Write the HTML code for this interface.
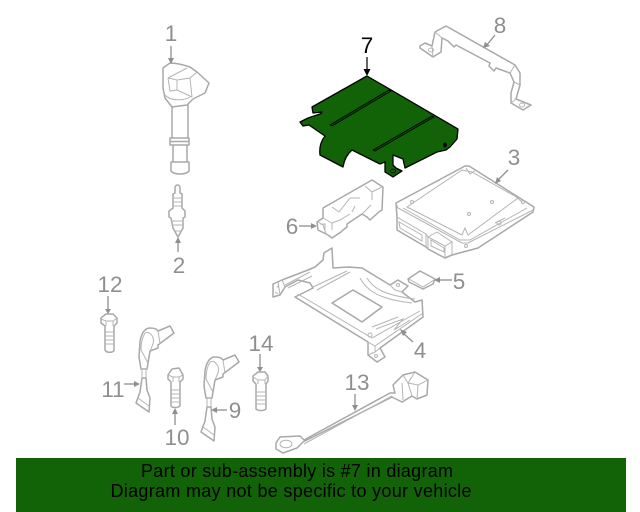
<!DOCTYPE html>
<html><head><meta charset="utf-8"><style>
html,body{margin:0;padding:0;background:#fff}
svg{display:block}
text{font-family:"Liberation Sans",sans-serif}
.l{fill:#8f8f8f;font-size:22.500px}
.g{fill:none;stroke:#a8a8a8;stroke-width:1.500;stroke-linejoin:round;stroke-linecap:round}
.t{stroke:#b4b4b4;stroke-width:1;fill:none}
.a{stroke:#8f8f8f;stroke-width:1.300;fill:none}
.h{fill:#8f8f8f}
</style></head><body>
<svg width="640" height="512" viewBox="0 0 640 512" xmlns="http://www.w3.org/2000/svg">
<rect x="16" y="458" width="610" height="54" fill="#126307"/>
<text x="297" y="477" text-anchor="middle" font-size="18" fill="#000" textLength="312">Part or sub-assembly is #7 in diagram</text>
<text x="291" y="497" text-anchor="middle" font-size="18" fill="#000" textLength="361">Diagram may not be specific to your vehicle</text>

<!-- part 7 -->
<path d="M367 76L458 129L457 139L450 147L446 150L437 152L405 168L403 159L393 155L393 165L396 168L402 171L393 177L385 172L385 162L380 164L352 150C346 155 344 161 343 167L320 155C319 147 321 141 325 136L309 125L303 126L300 122L308 118L320 114L322 112L313 113L312 107Z" fill="#126307" stroke="#000" stroke-width="1.300" stroke-linejoin="round"/>
<path d="M330 125L389 90L391 91L332 126Z M373 150L432 116L434 117L375 151Z" fill="#0d4d05" stroke="#000" stroke-width=".8"/>
<ellipse cx="445" cy="145" rx="1.800" ry="2.600" fill="#000"/>
<ellipse cx="393" cy="171" rx="2.500" ry="1.800" fill="none" stroke="#000" stroke-width=".8"/>
<text x="367" y="53" text-anchor="middle" font-size="22.500" fill="#000">7</text>
<path d="M367 57V70" stroke="#000" stroke-width="1.200"/><path d="M363.500 69L367 76L370.500 69Z" fill="#000"/>

<!-- part 8 -->
<path class="g" d="M420 46L425 43L432 46L435 32L446 26L515 65L520 73L520 85L516 99L531 105L523 110L511 103L511 93L514 82L510 73L496 68L494 71L489 66L490 63L456 45L454 47L448 41L442 38L441 52L433 57L420 48Z"/>
<path class="t" d="M432 46L433 57M435 32L442 38M515 65L510 73M520 85L514 82M516 99L511 103"/>
<ellipse cx="431" cy="50" rx="2.500" ry="2" class="t"/><ellipse cx="522" cy="105" rx="2.500" ry="2" class="t"/>
<text x="500" y="33" text-anchor="middle" class="l">8</text>
<path class="a" d="M495 35L486 46"/><path class="h" d="M483 48L485 42L490 46Z"/>

<!-- part 1 coil -->
<path class="g" d="M163 68L170 63C177 63 184 65 190 67L197 72L209 83L205 93L193 99L187 105L172 107L165 98L163 88Z"/>
<path class="t" d="M168 78L187 68M168 78L177 80L177 90L192 97M177 80L190 78L197 72M190 78L192 97M168 78L170 91L177 90M165 95C170 101 184 101 190 97"/>
<path class="g" d="M172 107V138M188 105V138M170 138H189V145H170ZM170 141.500H189M173 145V162M187 145V162M171 162H189V171C186 175 174 175 171 171Z"/>
<text x="171" y="41" text-anchor="middle" class="l">1</text>
<path class="a" d="M171 46V59"/><path class="h" d="M168 58L171 64L174 58Z"/>

<!-- part 2 plug -->
<path class="g" d="M175 193V188C175 184 180 184 180 188V193L182 194V208L185 211V217L183 218V228L178 237L173 228L171 218L169 217V211L173 208V194Z"/>
<path class="t" d="M173 198H182M173 202H182M173 206H182M171 221H183M172 225H183M174 231H182"/>
<text x="179" y="273" text-anchor="middle" class="l">2</text>
<path class="a" d="M178 241V252"/><path class="h" d="M175 243L178 237L181 243Z"/>

<!-- part 3 ECU -->
<path class="g" d="M396 203L465 166L469 166L534 207L533 212L478 248L452 255L445 258L428 249L426 247L397 230L397 217Z"/>
<path class="t" d="M396 203L398 208L462 243L468 243L533 210M403 208L460 240L470 240L527 208M407 207L462 170L472 172L518 198L468 235L465 228L462 235ZM407 207L462 235M397 217L426 234V247M426 234L428 237L445 246L452 242V255M445 246V258M428 237V249M437 232L452 242M428 237L437 232M399 222L422 235V241L400 228ZM431 240L444 248V252L431 246ZM466 168L470 174L476 170M434 183L440 180M514 195L522 202M495 223L505 218"/>
<circle cx="412" cy="202" r="1.500" class="t"/><circle cx="492" cy="202" r="1.500" class="t"/><circle cx="469" cy="214" r="1.500" class="t"/><circle cx="499" cy="223" r="2" class="t"/><circle cx="523" cy="202" r="1.500" class="t"/><circle cx="466" cy="246" r="1.500" class="t"/>
<text x="514" y="165" text-anchor="middle" class="l">3</text>
<path class="a" d="M508 170L497 181"/><path class="h" d="M495 184L497 177L501 181Z"/>

<!-- part 6 -->
<path class="g" d="M317 222L323 218L323 208L372 180L383 187L382 210L380 211L370 220L367 217L362 214L347 224V227L343 230L341 232L332 238L328 235L318 230Z"/>
<path class="t" d="M318 222L323 225L326 234M323 218L332 223L340 220L350 214M332 207L339 212L350 198M365 186L372 192L372 200M350 198L360 198M355 206L352 212M332 223L332 230M372 192L382 187M371 205L362 214M320 224H325V230"/>
<text x="292" y="234" text-anchor="middle" class="l">6</text>
<path class="a" d="M299 226H312"/><path class="h" d="M317 226L311 223V229Z"/>

<!-- part 4 tray -->
<path class="g" d="M273 284V297L280 295L285 287L298 280L310 283L313 288L295 297L368 342V355L377 362L385 357L380 348L423 317L422 300L415 302L402 292L408 286L398 280L390 285L362 268L348 267L333 268L332 248L324 253L323 260L315 267L308 270L282 280Z"/>
<path class="t" d="M278 282L280 295M282 280L285 287M285 285L310 272M288 288L312 276M313 287L347 271M317 290L350 272M298 294L372 338L420 311M368 342L375 346L423 313M375 346V352L380 348M368 355L375 352M360 278C366 289 376 299 412 303M367 278C373 288 383 295 415 299M372 327L398 317M376 329L403 319L394 330L410 320M402 292L395 290L390 285M277 286L279 288M275 292L278 294"/>
<path class="g" d="M332 303L353 290L382 307L362 322Z" stroke-width="1.200"/>
<circle cx="398" cy="285" r="1.500" class="t"/><circle cx="370" cy="335" r="2" class="t"/><circle cx="376" cy="356" r="1.500" class="t"/>
<text x="420" y="358" text-anchor="middle" class="l">4</text>
<path class="a" d="M413 342L403 333"/><path class="h" d="M400 329L407 332L403 336Z"/>

<!-- part 5 -->
<path class="g" d="M408 279L420 271L435 279L433 284L423 289L409 282Z"/>
<path class="t" d="M409 279L423 287L434 280"/>
<text x="459" y="289" text-anchor="middle" class="l">5</text>
<path class="a" d="M440 280H452"/><path class="h" d="M434 280L440 277V283Z"/>

<!-- part 12 -->
<path class="g" d="M101 318L106 314L113 314L117 318V323L114 326V350C114 353 106 353 105 350V326L101 323Z"/>
<path class="t" d="M101 319L106 321L113 321L117 318M106 321V326M113 321V326M105 332H114M105 336H114M105 340H114M105 344H114"/>
<text x="110" y="292" text-anchor="middle" class="l">12</text>
<path class="a" d="M108 296V311"/><path class="h" d="M105 309L108 314L111 309Z"/>

<!-- part 14 -->
<path class="g" d="M253 376L258 372L265 372L268 376V381L266 384V409C264 411 258 411 256 409V384L253 381Z"/>
<path class="t" d="M253 377L258 380L265 380L268 376M258 380V384M265 380V384M256 392H266M256 396H266M256 400H266M256 404H266"/>
<text x="261" y="351" text-anchor="middle" class="l">14</text>
<path class="a" d="M260 354V370"/><path class="h" d="M257 367L260 372L263 367Z"/>

<!-- part 10 -->
<path class="g" d="M168 375L172 369L179 368L183 375V379L180 382V406C178 408 172 408 171 406V382L168 379Z"/>
<path class="t" d="M168 375L173 377L179 377L183 375M173 377V382M179 377V382M171 390H180M171 394H180M171 398H180M171 402H180"/>
<text x="177" y="445" text-anchor="middle" class="l">10</text>
<path class="a" d="M175 425V413"/><path class="h" d="M172 414L175 408L178 414Z"/>

<!-- part 11 sensor -->
<g id="s"><path class="g" d="M140 342C141 335 144 328 150 328C154 328 157 329 158 331L170 326L174 333L158 345L158 348L150 351L148 363L147 369H141L139 357Z"/>
<path class="t" d="M145 333C150 331 155 337 153 344L150 351M145 333C142 338 141 345 141 350L148 363M158 331L160 344M141 369H147M142 369V378M146 369V378"/>
<path class="g" d="M142 378H146L147 390L150 398L149 412L136 403L140 392Z"/>
<path class="t" d="M138 398L149 406"/></g>
<text x="113" y="397" text-anchor="middle" class="l">11</text>
<path class="a" d="M124 384H136"/><path class="h" d="M140 384L134 381V387Z"/>

<!-- part 9 sensor -->
<g transform="translate(65 29)"><path class="g" d="M140 342C141 335 144 328 150 328C154 328 157 329 158 331L170 326L174 333L158 345L158 348L150 351L148 363L147 369H141L139 357Z"/>
<path class="t" d="M145 333C150 331 155 337 153 344L150 351M145 333C142 338 141 345 141 350L148 363M158 331L160 344M141 369H147M142 369V378M146 369V378"/>
<path class="g" d="M142 378H146L147 390L150 398L149 412L136 403L140 392Z"/>
<path class="t" d="M138 398L149 406"/></g>
<text x="235" y="418" text-anchor="middle" class="l">9</text>
<path class="a" d="M227 410H216"/><path class="h" d="M211 410L217 407V413Z"/>

<!-- part 13 sensor wire -->
<path class="g" d="M276 443L280 437L300 436L304 440L390 393L395 393L393 385L403 375L415 372L428 380L427 395L417 399L412 396L402 402L392 397L303 442L297 448L283 453L276 449Z"/>
<path class="t" d="M403 375L408 383L415 372M408 383L418 385L428 380M418 385L417 399M408 383L412 396M402 383L403 400"/>
<path class="t" d="M304 444L392 396" stroke="#fff"/>
<ellipse cx="286" cy="444" rx="6" ry="3.800" class="t"/>
<text x="357" y="390" text-anchor="middle" class="l">13</text>
<path class="a" d="M355 394V408"/><path class="h" d="M352 405L355 411L358 405Z"/>
</svg>
</body></html>
